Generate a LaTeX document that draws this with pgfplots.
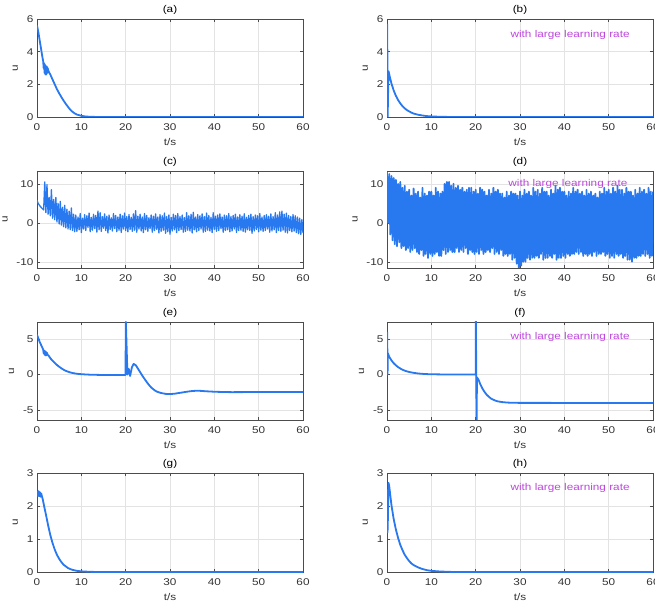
\documentclass[border=0pt]{standalone}
\usepackage{fontspec}
\setmainfont{Liberation Sans}[FakeStretch=1.2]
\usepackage{pgfplots}
\pgfplotsset{compat=1.18}
\definecolor{ublue}{RGB}{40,120,240}
\definecolor{annot}{RGB}{190,70,220}
\newcommand\fs{\fontsize{9.8}{11}\selectfont}

\tikzset{note/.style={font=\fs, text=annot}}
\pgfplotsset{
  panel/.style={
    scale only axis, width=266pt, height=98pt,
    xmin=0, xmax=60, xtick={0,10,...,60},
    grid=major, grid style={line width=0.4pt, draw=gray!22},
    axis line style={draw=black!70, line width=0.5pt},
    tick style={draw=black!70, line width=0.5pt},
    major tick length=3pt, tick align=inside,
    ticklabel style={font=\fs, text=black!80},
    xticklabel style={yshift=-3pt},
    xlabel={t/s}, ylabel={u},
    xlabel style={yshift=-1pt},
    ylabel shift=2pt,
    label style={font=\fs, text=black!80},
    title style={font=\fs, text=black, yshift=-5pt},
    /pgf/number format/assume math mode=true,
  },
  ucurve/.style={draw=ublue, line width=1.8pt, no markers, line join=round},
  unoise/.style={draw=ublue, line width=1.3pt, no markers, line join=round},
}

\begin{document}
\begin{tikzpicture}
\useasboundingbox (0,0) rectangle (655pt,607pt);

% (a)
\begin{axis}[panel, at={(37pt,490pt)}, anchor=south west, title={(a)},
  ymin=0, ymax=6, ytick={0,2,4,6}]
\addplot[ucurve] coordinates {
(0,5.6)(0.3,5.2)(0.6,4.7)(0.9,4.2)(1.2,3.7)(1.4,3.4)(1.5,3.0)(1.6,3.3)(1.7,2.7)
(1.8,3.2)(1.9,2.6)(2.0,3.1)(2.1,2.6)(2.2,3.1)(2.3,2.7)(2.4,3.0)(2.6,2.8)(3.0,2.6)
(3.5,2.3)(4.0,2.0)(4.5,1.7)(5.0,1.45)(5.5,1.22)(6.0,1.0)(6.5,0.8)(7.0,0.62)
(7.5,0.45)(8.0,0.32)(8.5,0.22)(9.0,0.15)(10,0.07)(11,0.03)(12,0.012)(14,0)(60,0)
};
\end{axis}

% (b)
\begin{axis}[panel, at={(387pt,490pt)}, anchor=south west, title={(b)},
  ymin=0, ymax=6, ytick={0,2,4,6}]
\addplot[ucurve] coordinates {
(0.05,5.7)(0.15,0)(0.25,1.5)(0.35,2.8)(0.6,2.5)(1,2.05)(1.5,1.63)(2,1.3)(2.5,1.04)
(3,0.83)(3.5,0.66)(4,0.53)(4.5,0.42)(5,0.34)(5.5,0.27)(6,0.21)(7,0.14)(8,0.09)
(9,0.055)(10,0.035)(12,0.012)(15,0)(60,0)
};
\node[note] at (axis cs:41.3,5.0) {with large learning rate};
\end{axis}

% (c)
\begin{axis}[panel, at={(37pt,339pt)}, anchor=south west, height=97pt, title={(c)},
  ymin=-11.6, ymax=13.3, ytick={-10,0,10}]
\addplot[unoise] coordinates {
(0,5.8)(0.25,5.0)(0.5,4.6)(0.75,4.2)(1,3.9)(1.25,3.6)(1.5,3.3)(1.75,10.5)(2,2.6)
(2.25,9.8)(2.5,2.2)(2.75,6.5)(3,1.8)(3.25,8.5)(3.5,1.2)(3.75,6)(4,0.8)(4.25,6.5)
(4.5,0.2)(4.75,5)(5,-0.3)(5.25,5.5)(5.5,-0.6)(5.75,4)(6,-1)(6.25,4.5)(6.5,-1.3)
(6.75,3.5)(7,-1.6)(7.25,3)(7.5,-1.8)(7.75,3.8)(8,-2)(8.25,2.2)(8.5,-2.3)(8.75,2.0)
(9,-2.2)(9.25,1.5)(9.5,-1.8)(9.75,2.4)(10,-2.5)(10.25,1.2)(10.5,-1.6)(10.75,2.1)
(11,-2.0)(11.25,1.8)(11.5,-1.2)(11.75,2.5)(12,-2.3)(12.25,1.4)(12.5,-1.9)(12.75,2.2)
(13,-1.5)(13.25,1.9)(13.5,-2.4)(13.75,3.0)(14,-1.8)(14.25,2.6)(14.5,-2.2)(14.75,1.6)
(15,-1.4)(15.25,2.3)(15.5,-2.0)(15.75,1.7)(16,-2.6)(16.25,2.0)(16.5,-1.7)(16.75,1.3)
(17,-2.1)(17.25,2.4)(17.5,-1.5)(17.75,1.9)(18,-2.3)(18.25,1.5)(18.5,-1.9)(18.75,2.2)
(19,-2.5)(19.25,1.8)(19.5,-1.6)(19.75,2.5)(20,-2.0)(20.25,1.6)(20.5,-2.3)(20.75,2.1)
(21,-1.7)(21.25,1.4)(21.5,-2.2)(21.75,2.3)(22,-1.9)(22.25,3.1)(22.5,-2.4)(22.75,1.7)
(23,-1.6)(23.25,2.2)(23.5,-2.1)(23.75,1.5)(24,-2.5)(24.25,2.4)(24.5,-1.8)(24.75,1.9)
(25,-2.2)(25.25,1.3)(25.5,-1.5)(25.75,2.0)(26,-2.4)(26.25,1.7)(26.5,-2.0)(26.75,2.3)
(27,-1.7)(27.25,1.5)(27.5,-2.6)(27.75,2.1)(28,-2.2)(28.25,1.8)(28.5,-1.9)(28.75,2.5)
(29,-2.7)(29.25,1.6)(29.5,-2.3)(29.75,2.0)(30,-2.9)(30.25,1.4)(30.5,-2.1)(30.75,2.2)
(31,-1.8)(31.25,1.9)(31.5,-2.5)(31.75,2.4)(32,-2.0)(32.25,1.6)(32.5,-1.7)(32.75,2.0)
(33,-2.4)(33.25,1.3)(33.5,-2.2)(33.75,2.6)(34,-1.9)(34.25,1.8)(34.5,-2.1)(34.75,2.2)
(35,-2.6)(35.25,2.7)(35.5,-1.8)(35.75,1.5)(36,-2.3)(36.25,2.1)(36.5,-2.0)(36.75,1.8)
(37,-1.6)(37.25,2.3)(37.5,-2.4)(37.75,1.6)(38,-2.2)(38.25,2.5)(38.5,-1.9)(38.75,1.9)
(39,-2.1)(39.25,1.4)(39.5,-2.5)(39.75,2.6)(40,-1.7)(40.25,1.7)(40.5,-2.2)(40.75,2.0)
(41,-2.0)(41.25,2.3)(41.5,-1.5)(41.75,1.5)(42,-2.4)(42.25,2.0)(42.5,-2.0)(42.75,1.8)
(43,-1.8)(43.25,2.4)(43.5,-2.3)(43.75,1.6)(44,-2.1)(44.25,1.9)(44.5,-1.6)(44.75,2.2)
(45,-2.5)(45.25,1.5)(45.5,-2.0)(45.75,2.1)(46,-1.9)(46.25,1.7)(46.5,-2.2)(46.75,2.3)
(47,-2.4)(47.25,1.4)(47.5,-1.8)(47.75,1.9)(48,-2.0)(48.25,2.2)(48.5,-2.7)(48.75,1.6)
(49,-2.1)(49.25,2.0)(49.5,-1.7)(49.75,1.8)(50,-2.3)(50.25,2.4)(50.5,-1.9)(50.75,1.5)
(51,-2.2)(51.25,1.9)(51.5,-2.0)(51.75,2.1)(52,-1.6)(52.25,1.7)(52.5,-2.4)(52.75,2.3)
(53,-2.1)(53.25,1.6)(53.5,-1.8)(53.75,2.6)(54,-2.5)(54.25,2.0)(54.5,-2.0)(54.75,2.8)
(55,-2.2)(55.25,3.0)(55.5,-1.9)(55.75,2.2)(56,-2.4)(56.25,2.5)(56.5,-2.6)(56.75,1.9)
(57,-2.0)(57.25,1.6)(57.5,-2.3)(57.75,2.1)(58,-2.1)(58.25,1.8)(58.5,-2.5)(58.75,1.5)
(59,-2.8)(59.25,1.2)(59.5,-3.0)(59.75,0.8)(60,-2.6)
};
\end{axis}

% (d)
\begin{axis}[panel, at={(387pt,339pt)}, anchor=south west, height=97pt, title={(d)},
  ymin=-11.6, ymax=13.3, ytick={-10,0,10}]
\addplot[unoise, line width=1.8pt] coordinates {
(0,13)(0.25,0)(0.5,12.5)(0.75,-3)(1,12)(1.25,-4.5)(1.5,11.5)(1.75,-5.5)
(2,11)(2.25,-6)(2.5,10)(2.75,-5)(3,10.5)(3.25,-6.5)(3.5,9)(3.75,-6)
(4,9.5)(4.25,-7)(4.5,8)(4.75,-6.5)(5,8.5)(5.25,-7.5)(5.5,7)(5.75,-7)
(6,8.8)(6.25,-6.5)(6.5,7.5)(6.75,-7.5)(7,8)(7.25,-8)(7.5,6.5)(7.75,-7)
(8,9)(8.25,-8.5)(8.5,7.5)(8.75,-8)(9,7)(9.25,-9)(9.5,8)(9.75,-8)
(10,8)(10.25,-8.5)(10.5,7)(10.75,-8)(11,9)(11.25,-7.5)(11.5,8)(11.75,-8.5)
(12,7.5)(12.25,-8.5)(12.5,8)(12.75,-7)(13,10)(13.25,-8)(13.5,10.5)(13.75,-7.5)
(14,10.5)(14.25,-7)(14.5,9.5)(14.75,-7.5)(15,10)(15.25,-7.5)(15.5,9)(15.75,-6.5)
(16,9.5)(16.25,-7.5)(16.5,8.5)(16.75,-7)(17,9)(17.25,-7.5)(17.5,8)(17.75,-6.5)
(18,8.5)(18.25,-8)(18.5,9)(18.75,-7)(19,9)(19.25,-7.5)(19.5,8)(19.75,-8)
(20,8.5)(20.25,-7.5)(20.5,7.5)(20.75,-8)(21,9)(21.25,-7)(21.5,8.5)(21.75,-8)
(22,8)(22.25,-7.5)(22.5,7)(22.75,-7)(23,8.5)(23.25,-7.5)(23.5,7.5)(23.75,-6.5)
(24,9)(24.25,-8)(24.5,8)(24.75,-7.5)(25,8.5)(25.25,-8)(25.5,7.5)(25.75,-7)
(26,7.5)(26.25,-8.5)(26.5,6.5)(26.75,-8)(27,8)(27.25,-8.5)(27.5,7)(27.75,-8)
(28,8)(28.25,-9.5)(28.5,7.5)(28.75,-9)(29,7.5)(29.25,-10.5)(29.5,7)(29.75,-11.5)
(30,8)(30.25,-11)(30.5,7)(30.75,-10)(31,8.5)(31.25,-10)(31.5,7.5)(31.75,-9)
(32,8)(32.25,-9.5)(32.5,7)(32.75,-9)(33,9)(33.25,-9)(33.5,8)(33.75,-8.5)
(34,8.5)(34.25,-9)(34.5,7.5)(34.75,-8)(35,9)(35.25,-9.5)(35.5,8)(35.75,-9)
(36,8)(36.25,-9)(36.5,7)(36.75,-8.5)(37,8.5)(37.25,-9)(37.5,7.5)(37.75,-8)
(38,9.5)(38.25,-9.5)(38.5,8.5)(38.75,-9)(39,9)(39.25,-9)(39.5,8)(39.75,-8.5)
(40,8)(40.25,-9)(40.5,7)(40.75,-8)(41,8)(41.25,-8.5)(41.5,7.5)(41.75,-8)
(42,9)(42.25,-8)(42.5,8)(42.75,-7.5)(43,8.5)(43.25,-8)(43.5,7.5)(43.75,-7.5)
(44,8)(44.25,-8.5)(44.5,7)(44.75,-8)(45,8.5)(45.25,-8.5)(45.5,7.5)(45.75,-8)
(46,8)(46.25,-8.5)(46.5,7)(46.75,-7.5)(47,7.5)(47.25,-8.5)(47.5,6.5)(47.75,-8)
(48,8)(48.25,-8)(48.5,7.5)(48.75,-7.5)(49,9)(49.25,-8.5)(49.5,8)(49.75,-8)
(50,8.5)(50.25,-9)(50.5,7.5)(50.75,-8.5)(51,9)(51.25,-9)(51.5,8)(51.75,-8)
(52,9.5)(52.25,-8.5)(52.5,8.5)(52.75,-8)(53,8.5)(53.25,-9)(53.5,7.5)(53.75,-8.5)
(54,9)(54.25,-9.5)(54.5,8)(54.75,-9.5)(55,8)(55.25,-10)(55.5,7)(55.75,-9)
(56,8.5)(56.25,-9)(56.5,7.5)(56.75,-8.5)(57,9)(57.25,-8.5)(57.5,8)(57.75,-8)
(58,8.5)(58.25,-8.5)(58.5,7.5)(58.75,-8)(59,9)(59.25,-9)(59.5,8)(59.75,-8.5)
(60,8)
};
\node[note] at (axis cs:40.8,10) {with large learning rate};
\end{axis}

% (e)
\begin{axis}[panel, at={(37pt,187pt)}, anchor=south west, title={(e)},
  ymin=-6.4, ymax=7.4, ytick={-5,0,5}]
\addplot[ucurve] coordinates {
(0,5.6)(0.3,5.1)(0.6,4.6)(0.9,4.2)(1.2,3.8)(1.4,3.5)(1.5,3.0)(1.6,3.4)(1.7,2.8)
(1.8,3.3)(1.9,2.7)(2.0,3.2)(2.1,2.7)(2.2,3.1)(2.4,2.8)(2.7,2.6)(3.0,2.3)(3.5,1.95)
(4.0,1.65)(4.5,1.35)(5.0,1.1)(5.5,0.88)(6.0,0.68)(6.5,0.52)(7.0,0.4)(7.5,0.3)
(8.0,0.22)(9.0,0.11)(10,0.05)(11,0.01)(12,-0.02)(14,-0.05)(17,-0.06)(19.95,-0.06)
(20.05,7.4)(20.4,0)(20.7,0.8)(21,-0.2)(21.4,1.0)(21.8,1.5)(22.3,1.3)(22.8,0.8)
(23.3,0.3)(23.8,-0.2)(24.3,-0.65)(24.8,-1.1)(25.3,-1.5)(25.8,-1.85)(26.5,-2.2)
(27,-2.4)(28,-2.6)(29,-2.72)(30,-2.75)(31,-2.7)(32,-2.6)(33,-2.5)(34,-2.4)
(35,-2.32)(36,-2.28)(37,-2.3)(38,-2.35)(40,-2.42)(42,-2.46)(44,-2.48)(47,-2.47)
(50,-2.45)(53,-2.46)(56,-2.47)(60,-2.47)
};
\end{axis}

% (f)
\begin{axis}[panel, at={(387pt,187pt)}, anchor=south west, title={(f)},
  ymin=-6.4, ymax=7.4, ytick={-5,0,5}]
\addplot[ucurve] coordinates {
(0.05,6)(0.12,0)(0.2,3.0)(0.5,2.5)(1,2.0)(1.5,1.6)(2,1.3)(2.5,1.05)(3,0.85)
(3.5,0.68)(4,0.55)(4.5,0.45)(5,0.36)(6,0.24)(7,0.15)(8,0.1)(9,0.06)(10,0.04)
(12,0.02)(15,0.01)(20,0)(20.05,8)(20.2,-7)(20.3,-0.4)(20.7,-0.8)(21,-1.3)
(21.5,-1.95)(22,-2.45)(22.5,-2.85)(23,-3.15)(23.5,-3.4)(24,-3.55)(24.5,-3.68)
(25,-3.78)(26,-3.88)(27,-3.94)(28,-3.97)(30,-3.99)(60,-4)
};
\node[note] at (axis cs:41.3,5.3) {with large learning rate};
\end{axis}

% (g)
\begin{axis}[panel, at={(37pt,35pt)}, anchor=south west, height=99pt, title={(g)},
  ymin=0, ymax=3, ytick={0,1,2,3}]
\addplot[ucurve] coordinates {
(0,2.45)(0.2,2.3)(0.35,2.45)(0.5,2.3)(0.65,2.42)(0.8,2.28)(0.95,2.38)(1.1,2.3)
(1.3,2.2)(1.6,2.0)(2,1.75)(2.5,1.42)(3,1.12)(3.5,0.88)(4,0.68)(4.5,0.52)(5,0.4)
(5.5,0.3)(6,0.22)(6.5,0.17)(7,0.12)(7.5,0.09)(8,0.065)(9,0.035)(10,0.02)
(12,0.005)(14,0)(60,0)
};
\end{axis}

% (h)
\begin{axis}[panel, at={(387pt,35pt)}, anchor=south west, height=99pt, title={(h)},
  ymin=0, ymax=3, ytick={0,1,2,3}]
\addplot[ucurve] coordinates {
(0.05,2.5)(0.12,1.2)(0.2,1.6)(0.35,2.7)(0.5,2.6)(1,2.03)(1.5,1.61)(2,1.29)(2.5,1.03)
(3,0.82)(3.5,0.66)(4,0.52)(4.5,0.42)(5,0.33)(5.5,0.26)(6,0.21)(7,0.14)(8,0.09)
(9,0.055)(10,0.035)(12,0.015)(15,0)(60,0)
};
\node[note] at (axis cs:41.3,2.55) {with large learning rate};
\end{axis}
\end{tikzpicture}
\end{document}
